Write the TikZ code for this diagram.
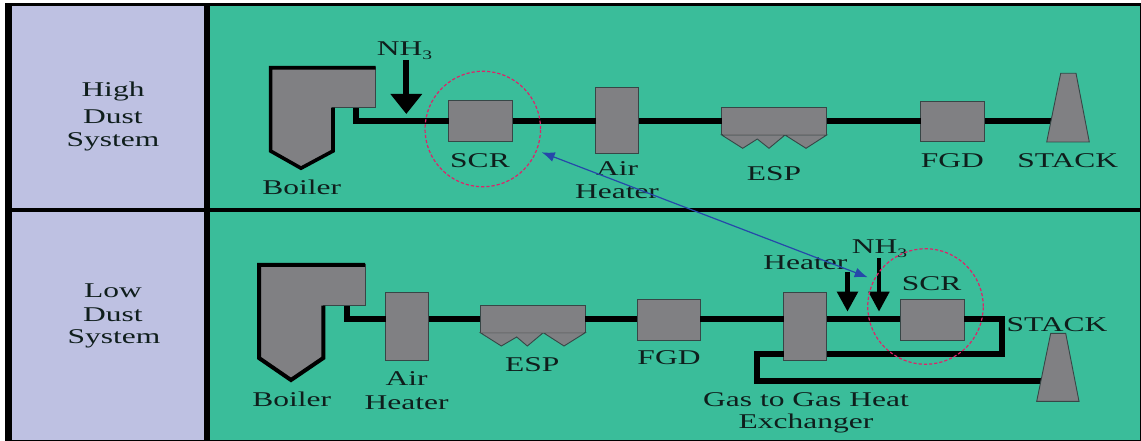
\documentclass[tikz,border=0pt]{standalone}
\usepackage{fontspec}
\setmainfont[FakeStretch=1.5]{Liberation Serif}
\usetikzlibrary{arrows.meta}
\definecolor{panelgreen}{RGB}{58,189,154}
\definecolor{panellav}{RGB}{190,193,226}
\definecolor{unitgrey}{RGB}{128,128,131}
\definecolor{unitedge}{RGB}{55,70,70}
\definecolor{ringred}{RGB}{222,35,105}
\definecolor{linkblue}{RGB}{38,72,170}
\definecolor{labelink}{RGB}{15,30,28}
\tikzset{
  unitbox/.style={draw=unitedge,line width=0.9pt,fill=unitgrey,inner sep=0pt,outer sep=0pt},
  unitshape/.style={draw=unitedge,line width=0.9pt,fill=unitgrey},
  wall/.style={line width=3.6pt,line cap=butt,line join=miter,draw=black},
  pipe/.style={line width=6pt,draw=black,line join=miter},
  lbl/.style={inner sep=0pt,yshift=-1.3pt,text=labelink,align=center,font=\fontsize{21}{25}\selectfont},
  ring/.style={draw=ringred,line width=1.2pt,dash pattern=on 3.2pt off 2pt,circle,inner sep=0pt,minimum size=115.5pt},
  feed/.style={draw=black,line width=#1},
  seam/.style={draw=unitgrey!88!black,line width=1.1pt},
  link/.style={draw=linkblue,line width=1.2pt,{Latex[length=13pt,width=10pt]}-{Latex[length=13pt,width=10pt]}}
}
\newcommand{\nhthree}{NH\raisebox{-4pt}{\fontsize{13}{13}\selectfont 3}}
\begin{document}
\begin{tikzpicture}[x=1pt,y=-1pt]
\useasboundingbox (0,0) rectangle (1141,441);
% panels
\fill[white] (0,0) rectangle (1141,441);
\fill[black] (5,3) rectangle (1141,441);
\fill[panellav] (11.5,6.5) rectangle (204,208);
\fill[panellav] (11.5,212) rectangle (204,440);
\fill[panelgreen] (210,6.5) rectangle (1140,208);
\fill[panelgreen] (210,212) rectangle (1140,440);
% side labels
\node[lbl] (hi1) at (113,90.5) {High};
\node[lbl] (hi2) at (113,115.5) {Dust};
\node[lbl] (hi3) at (113,141) {System};
\node[lbl] (lo1) at (113,289) {Low};
\node[lbl] (lo2) at (113,313) {Dust};
\node[lbl] (lo3) at (114,338) {System};
% ---------- upper row
\coordinate (duct1) at (356,107);
\coordinate (stack1in) at (1055,121);
\node[unitbox,minimum width=64pt,minimum height=40.5pt] (scr1) at (480.5,121.2) {};
\node[unitbox,minimum width=43pt,minimum height=66pt] (air1) at (617.3,120) {};
\node[unitbox,minimum width=105pt,minimum height=27pt] (esp1) at (774.2,121.3) {};
\node[unitbox,minimum width=64pt,minimum height=40.5pt] (fgd1) at (952.8,121.5) {};
\draw[pipe] (duct1) |- (scr1.west);
\draw[pipe] (scr1.east) -- (air1.west |- scr1.east);
\draw[pipe] (air1.east |- scr1.east) -- (esp1.west |- scr1.east);
\draw[pipe] (esp1.east |- scr1.east) -- (fgd1.west |- scr1.east);
\draw[pipe] (fgd1.east |- scr1.east) -- (stack1in |- scr1.east);
\fill[unitgrey] (269,66.7) -- (375.7,66.7) -- (375.7,107.7) -- (331.7,107.7) -- (331.7,151.7) -- (301,169) -- (269,151.7) -- cycle;
\draw[draw=unitedge,line width=0.8pt] (375.7,67) -- (375.7,107.7) -- (331.7,107.7);
\draw[wall] (375.7,67.8) -- (270.6,67.8) -- (270.6,151) -- (301,168.2) -- (333,151) -- (333,107.7);
\draw[unitshape] (721.7,135) -- (742.7,148.3) -- (757.3,139) -- (769,148.3) -- (785,135) -- (806,148.3) -- (826.7,135) -- cycle;
\draw[seam] (esp1.south west) ++(1,0) -- ([xshift=-1pt]esp1.south east);
\draw[unitshape] (1046.7,142) -- (1060.7,73.3) -- (1076,73.3) -- (1089.3,142) -- cycle;
\node[lbl] (nh1) at (404.5,49) {\nhthree};
\coordinate (feed1a) at (406.3,60);
\coordinate (feed1b) at (406.3,114);
\draw[feed=6pt,-{Triangle[width=30.5pt,length=20pt]}] (feed1a) -- (feed1b);
\node[ring] (ring1) at (482.8,129) {};
\node[lbl] (t1) at (301.7,186) {Boiler};
\node[lbl] (t2) at (480,159) {SCR};
\node[lbl] (t3) at (617,167) {Air};
\node[lbl] (t4) at (617,190.5) {Heater};
\node[lbl] (t5) at (774,172.5) {ESP};
\node[lbl] (t6) at (952.3,159) {FGD};
\node[lbl] (t7) at (1067.7,159) {STACK};
% ---------- lower row
\coordinate (p2) at (0,319);
\coordinate (duct2) at (346.5,305);
\coordinate (stack2in) at (1042,380.7);
\coordinate (loopr) at (1001.5,319);
\coordinate (loopm) at (1001.5,353.7);
\coordinate (loopl) at (757,353.7);
\coordinate (loopb) at (757,380.7);
\node[unitbox,minimum width=43pt,minimum height=68pt] (air2) at (407.3,326.3) {};
\node[unitbox,minimum width=105pt,minimum height=27pt] (esp2) at (532.8,319.2) {};
\node[unitbox,minimum width=63pt,minimum height=41pt] (fgd2) at (668.8,319.5) {};
\node[unitbox,minimum width=43pt,minimum height=68pt] (hx) at (805.3,326.3) {};
\node[unitbox,minimum width=64pt,minimum height=41pt] (scr2) at (932.3,319.6) {};
\draw[pipe] (duct2) |- (air2.west |- p2);
\draw[pipe] (air2.east |- p2) -- (esp2.west |- p2);
\draw[pipe] (esp2.east |- p2) -- (fgd2.west |- p2);
\draw[pipe] (fgd2.east |- p2) -- (hx.west |- p2);
\draw[pipe] (hx.east |- p2) -- (scr2.west |- p2);
\draw[pipe] (scr2.east |- p2) -- (loopr) -- (loopm) -- (hx.east |- loopm);
\draw[pipe] (hx.west |- loopm) -- (loopl) -- (loopb) -- (stack2in);
\fill[unitgrey] (257.3,263.3) -- (365,263.3) -- (365,305.7) -- (323.3,305.7) -- (323.3,358) -- (291,381.7) -- (257.3,358) -- cycle;
\draw[draw=unitedge,line width=0.8pt] (365,264) -- (365,305.7) -- (323.3,305.7);
\draw[wall,line width=4pt] (365,264.8) -- (259,264.8) -- (259,358) -- (291,380) -- (323.3,358) -- (323.3,305.7);
\draw[unitshape] (480.3,332.7) -- (501.3,346) -- (516.7,337) -- (527.3,346) -- (543.3,332.7) -- (564,346) -- (585.3,332.7) -- cycle;
\draw[seam] (esp2.south west) ++(1,0) -- ([xshift=-1pt]esp2.south east);
\draw[unitshape] (1036.7,401.3) -- (1050.7,333.3) -- (1065.7,333.3) -- (1079,401.3) -- cycle;
\coordinate (feed2a) at (847.5,271.7);
\coordinate (feed2b) at (847.5,311.7);
\coordinate (feed3a) at (879,258.3);
\coordinate (feed3b) at (879,311.7);
\draw[feed=5pt,-{Triangle[width=20pt,length=20pt]}] (feed2a) -- (feed2b);
\draw[feed=4.6pt,-{Triangle[width=20pt,length=20pt]}] (feed3a) -- (feed3b);
\node[ring] (ring2) at (925.5,306.5) {};
\node[lbl] (t8) at (291.7,397.7) {Boiler};
\node[lbl] (t9) at (406.7,377.7) {Air};
\node[lbl] (t10) at (406.7,401.7) {Heater};
\node[lbl] (t11) at (532.3,363.3) {ESP};
\node[lbl] (t12) at (669,356.7) {FGD};
\node[lbl] (t13) at (805.3,261.7) {Heater};
\node[lbl] (nh2) at (879.5,247.5) {\nhthree};
\node[lbl] (t14) at (931.7,282.3) {SCR};
\node[lbl] (t15) at (1057,323.3) {STACK};
\node[lbl] (t16) at (806,398.3) {Gas to Gas Heat};
\node[lbl] (t17) at (806,422) {Exchanger};
% blue link between the two SCR rings
\coordinate (linka) at (541.7,152.3);
\coordinate (linkb) at (867.7,277.3);
\draw[link] (linka) -- (linkb);
\end{tikzpicture}
\end{document}
